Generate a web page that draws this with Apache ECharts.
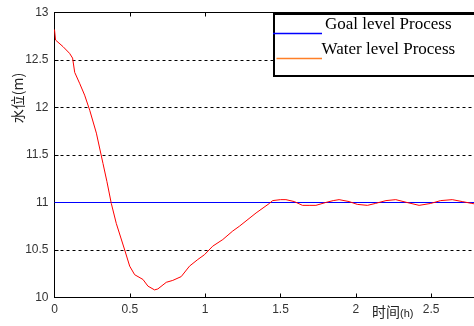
<!DOCTYPE html>
<html>
<head>
<meta charset="utf-8">
<script src="https://cdn.jsdelivr.net/npm/echarts@6/dist/echarts.min.js"></script>
<style>html,body{margin:0;padding:0;background:#fff;}#c{width:474px;height:326px;}</style>
</head>
<body>
<div id="c"></div>
<script>
var timeH = [0, 0.007, 0.017, 0.057, 0.10, 0.12, 0.134, 0.168, 0.20, 0.234, 0.278, 0.322, 0.348, 0.377, 0.41, 0.466, 0.499, 0.532, 0.587, 0.62, 0.664, 0.686, 0.742, 0.785, 0.841, 0.896, 0.951, 0.995, 1.05, 1.117, 1.183, 1.227, 1.338, 1.426, 1.448, 1.50, 1.536, 1.591, 1.646, 1.69, 1.735, 1.80, 1.85, 1.889, 1.955, 2.01, 2.077, 2.13, 2.20, 2.265, 2.34, 2.42, 2.497, 2.563, 2.64, 2.706, 2.77, 2.85, 2.93, 3.0];
var waterLevel = [12.82, 12.71, 12.69, 12.64, 12.57, 12.52, 12.37, 12.25, 12.13, 11.97, 11.73, 11.41, 11.22, 10.99, 10.78, 10.50, 10.33, 10.24, 10.19, 10.12, 10.08, 10.09, 10.16, 10.18, 10.22, 10.33, 10.40, 10.45, 10.54, 10.61, 10.70, 10.75, 10.89, 10.99, 11.02, 11.03, 11.03, 11.01, 10.97, 10.97, 10.97, 11.00, 11.02, 11.03, 11.01, 10.98, 10.97, 10.99, 11.02, 11.03, 11.00, 10.97, 10.99, 11.02, 11.03, 11.01, 10.99, 10.97, 10.99, 11.02];
var goalTime = [0, 3];
var goalLevel = [11, 11];
var legendNames = ['Goal level Process', 'Water level Process'];
var yAxisName = '水位(m)';
var xAxisName = '时间';
var xAxisUnit = '(h)';

function pairs(xs, ys) { return xs.map(function (x, i) { return [x, ys[i]]; }); }

var chart = echarts.init(document.getElementById('c'), null, {renderer: 'canvas'});
var labelStyle = {color: '#333', fontFamily: 'Liberation Sans, Arial, sans-serif', fontSize: 12};
chart.setOption({
  animation: false,
  backgroundColor: '#fff',
  grid: {left: 54.5, top: 12.5, width: 452, bottom: 28.5, containLabel: false, outerBoundsMode: 'none'},
  xAxis: [{
    type: 'value', min: 0, max: 3, interval: 0.5, position: 'bottom',
    axisLine: {lineStyle: {color: '#000', width: 1}},
    axisTick: {inside: true, length: 4, lineStyle: {color: '#000'}},
    axisLabel: Object.assign({margin: 6, showMaxLabel: false, formatter: function (v) { return String(v); }}, labelStyle),
    splitLine: {show: false}
  }, {
    type: 'value', min: 0, max: 3, interval: 0.5, position: 'top',
    axisLine: {lineStyle: {color: '#000', width: 1}},
    axisTick: {inside: true, length: 4, lineStyle: {color: '#000'}},
    axisLabel: {show: false},
    splitLine: {show: false}
  }],
  yAxis: [{
    type: 'value', min: 10, max: 13, interval: 0.5,
    axisLine: {show: true, lineStyle: {color: '#000', width: 1}},
    axisTick: {show: true, inside: true, length: 4, lineStyle: {color: '#000'}},
    axisLabel: Object.assign({margin: 6, formatter: function (v) { return String(v); }}, labelStyle),
    splitLine: {show: true, lineStyle: {color: '#000', type: [3, 3], width: 1}}
  }],
  series: [{
    name: legendNames[0], type: 'line', data: pairs(goalTime, goalLevel),
    showSymbol: false, lineStyle: {color: '#0000ff', width: 1}, itemStyle: {color: '#0000ff'}
  }, {
    name: legendNames[1], type: 'line', data: pairs(timeH, waterLevel),
    showSymbol: false, smooth: false, lineStyle: {color: '#ff0000', width: 1}, itemStyle: {color: '#ff0000'}
  }],
  graphic: [
    {type: 'group', x: 18, y: 98, rotation: Math.PI / 2, children: [
      {type: 'text', x: 0, y: 0, style: {text: yAxisName, fill: '#222', font: '14px "Noto Sans CJK SC", sans-serif', align: 'center', verticalAlign: 'middle'}}
    ]},
    {type: 'text', x: 372, y: 305, style: {text: '{a|' + xAxisName + '}{b|' + xAxisUnit + '}', fill: '#222',
      rich: {a: {fontSize: 14, fontFamily: 'Noto Sans CJK SC, sans-serif', fill: '#222'}, b: {fontSize: 11, fontFamily: 'Liberation Sans, Arial, sans-serif', fill: '#222', verticalAlign: 'bottom'}}}},
    {type: 'rect', shape: {x: 274, y: 14, width: 230, height: 62}, style: {fill: '#fff', stroke: '#000', lineWidth: 2}, z: 100},
    {type: 'line', shape: {x1: 273, y1: 33.5, x2: 322, y2: 33.5}, style: {stroke: '#0000ff', lineWidth: 1.5}, z: 101},
    {type: 'line', shape: {x1: 276.5, y1: 58.5, x2: 322, y2: 58.5}, style: {stroke: '#ff7f27', lineWidth: 1.5}, z: 101},
    {type: 'text', x: 325, y: 25, style: {text: legendNames[0], fill: '#000', font: '17px "Liberation Serif", "Times New Roman", serif', verticalAlign: 'middle'}, z: 102},
    {type: 'text', x: 321.5, y: 50, style: {text: legendNames[1], fill: '#000', font: '17px "Liberation Serif", "Times New Roman", serif', verticalAlign: 'middle'}, z: 102}
  ]
});
</script>
</body>
</html>
